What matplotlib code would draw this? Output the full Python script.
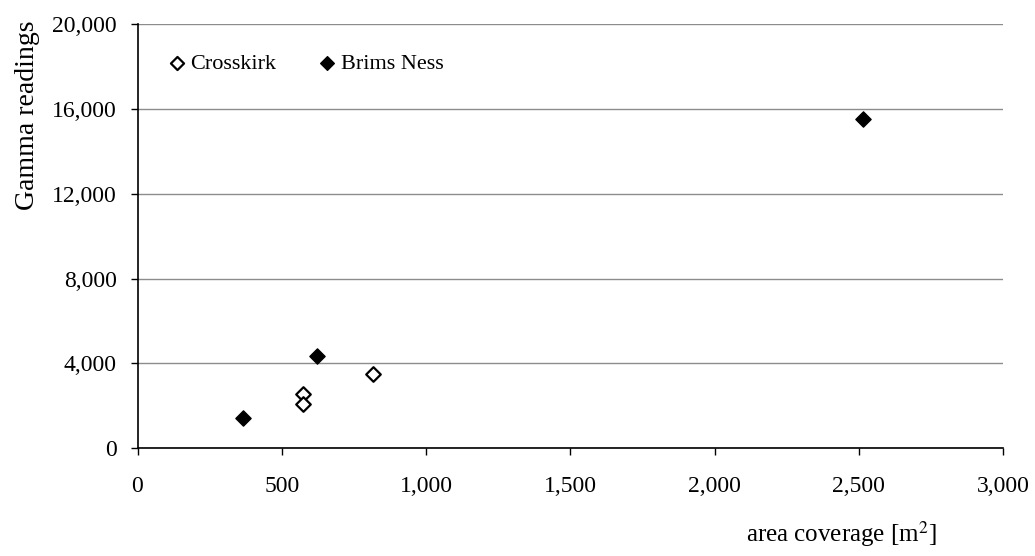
import matplotlib
matplotlib.use("Agg")
import matplotlib.pyplot as plt
from matplotlib.ticker import FuncFormatter

plt.rcParams['font.family'] = ['Liberation Serif', 'DejaVu Serif']

# Area coverage (m^2) and gamma readings per site
crosskirk_area = [573, 573, 815]
crosskirk_gamma = [2560, 2070, 3500]
brims_area = [366, 622, 2514]
brims_gamma = [1410, 4350, 15520]

x_ticks = [0, 500, 1000, 1500, 2000, 2500, 3000]
y_ticks = [0, 4000, 8000, 12000, 16000, 20000]

W, H = 1035, 556
fig = plt.figure(figsize=(W / 100, H / 100), dpi=100)
ax = fig.add_axes([137.5 / W, 1 - 448.3 / H, (1003 - 137.5) / W, (448.3 - 24) / H])

ax.scatter(crosskirk_area, crosskirk_gamma, marker='D', s=55, facecolor='white',
           edgecolor='black', linewidth=1.6, zorder=3, label='Crosskirk')
ax.scatter(brims_area, brims_gamma, marker='D', s=60, facecolor='black',
           edgecolor='black', linewidth=1.0, zorder=3, label='Brims Ness')

ax.set_xlim(0, 3000)
ax.set_ylim(0, 20000)
ax.set_xticks(x_ticks)
ax.set_yticks(y_ticks)
fmt = FuncFormatter(lambda v, p: f"{int(v):,}")
ax.xaxis.set_major_formatter(fmt)
ax.yaxis.set_major_formatter(fmt)
ax.tick_params(labelsize=17, length=5, width=1, color='black')
ax.tick_params(axis='y', pad=10)
ax.tick_params(axis='x', pad=15)

ax.yaxis.grid(True, color='#8c8c8c', linewidth=1)
ax.set_axisbelow(True)
for s in ['top', 'right']:
    ax.spines[s].set_visible(False)
for s in ['left', 'bottom']:
    ax.spines[s].set_linewidth(1.2)

leg = ax.legend(loc='upper left', bbox_to_anchor=(0.012, 0.978), ncol=2, frameon=False,
                fontsize=16, handletextpad=0.2, columnspacing=1.9, markerscale=0.9,
                handlelength=0.8)

fig.text(28 / W, 1 - 20 / H, 'Gamma readings', rotation=90, ha='center', va='top', fontsize=20)
fig.text(937 / W, 1 - 542 / H, 'area coverage [m$^2$]', ha='right', va='baseline', fontsize=18,
         math_fontfamily='stix')

fig.savefig('out.png', dpi=100)
